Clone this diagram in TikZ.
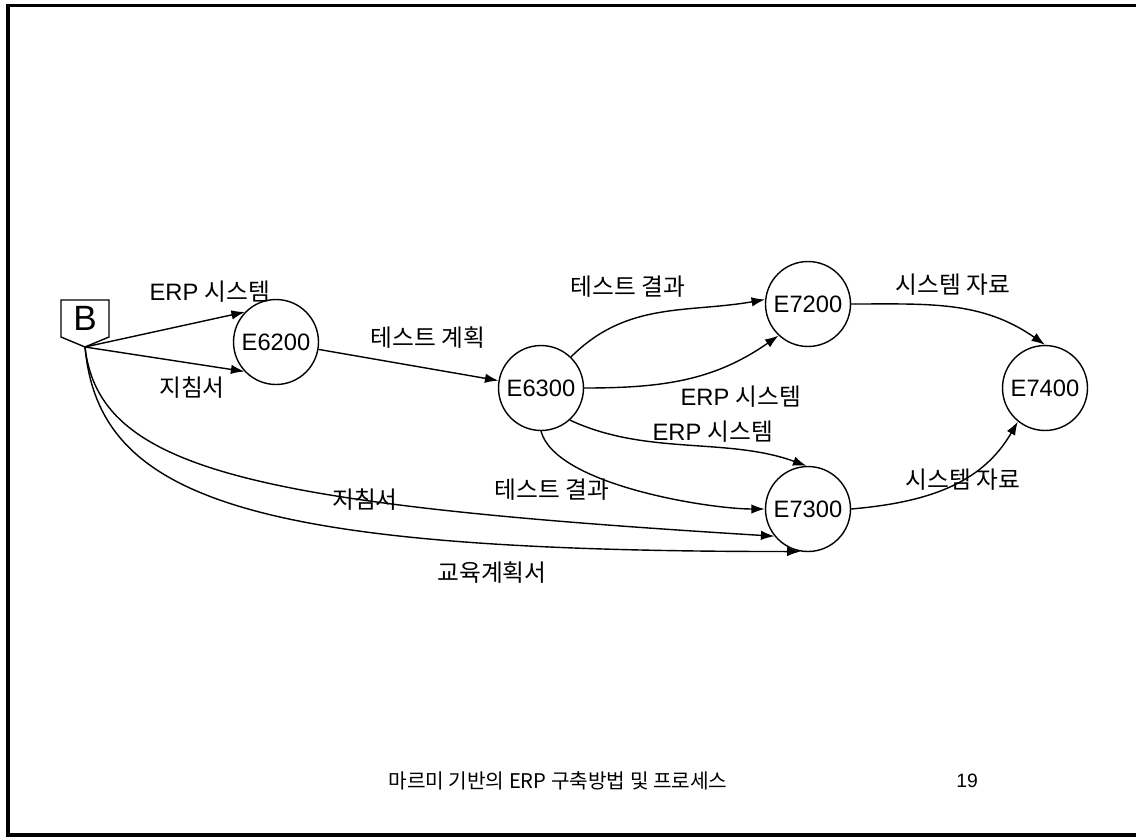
\documentclass[tikz,border=0pt]{standalone}
\usepackage{fontspec}
\setmainfont{Liberation Sans}
\newfontfamily\kr{Noto Sans CJK KR}
\usetikzlibrary{arrows.meta,calc}

\begin{document}
\begin{tikzpicture}[x=0.02cm, y=0.02cm,
    proc/.style={draw, circle, line width=0.8pt, minimum size=1.7cm, inner sep=0pt, font=\fontsize{13.5}{16}\selectfont},
    lbl/.style={font=\fontsize{13.5}{16}\selectfont, inner sep=1pt},
    flow/.style={-{Latex[length=2.7mm,width=1.9mm]}, line width=0.8pt}]
    \useasboundingbox (0,0) rectangle (1136,-839);
    \draw [line width=1.8pt] (1136,-5.5) -- (8,-5.5) -- (8,-835) -- (1136,-835);

    % start box
    \node (b) [minimum width=0.96cm, minimum height=0.74cm, inner sep=0pt, outer sep=0pt, font=\fontsize{20}{22}\selectfont] at (85,-318.5) {B};
    \coordinate (tip) at (85,-347);
    \draw [line width=0.8pt] (b.north west) -- (b.north east) -- (b.south east) -- (tip) -- (b.south west) -- cycle;

    % processes
    \node (e6200) [proc] at (276,-342) {E6200};
    \node (e6300) [proc] at (541,-388) {E6300};
    \node (e7200) [proc] at (808,-304) {E7200};
    \node (e7300) [proc] at (808,-509) {E7300};
    \node (e7400) [proc] at (1045,-388) {E7400};

    % flows
    \draw [flow] (tip) -- (e6200.136);
    \draw [flow] (tip) -- (e6200.223);
    \draw [flow] (e6200) -- (e6300);
    \draw [flow] (e6300.46) to[out=45, in=190] (e7200.174);
    \draw [flow] (e6300.east) to[out=0, in=215] (e7200.227);
    \draw [flow] (e6300.-48) to[out=-25, in=160, looseness=0.9] (e7300.92);
    \draw [flow] (e6300.south) to[out=-75, in=180, looseness=0.6] (e7300.west);
    \draw [flow] (tip) .. controls +(14,-123) and +(-523,32) .. (e7300.219);
    \draw [flow] (tip) .. controls +(14,-153) and +(-550,0) .. (e7300.-100);
    \draw [flow] (e7200.east) to[out=0, in=145] (e7400.north);
    \draw [flow] (e7300.east) to[out=5, in=240] (e7400.231);

    % labels
    \node (l1) [lbl] at (210,-292) {ERP {\kr 시스템}};
    \node (l2) [lbl] at (192,-388) {\kr 지침서};
    \node (l3) [lbl] at (428,-338) {\kr 테스트 계획};
    \node (l4) [lbl] at (628,-287) {\kr 테스트 결과};
    \node (l5) [lbl] at (741,-397) {ERP {\kr 시스템}};
    \node (l6) [lbl] at (713,-432) {ERP {\kr 시스템}};
    \node (l7) [lbl] at (552,-490) {\kr 테스트 결과};
    \node (l8) [lbl] at (365,-500) {\kr 지침서};
    \node (l9) [lbl] at (492,-573) {\kr 교육계획서};
    \node (l10) [lbl] at (953,-285) {\kr 시스템 자료};
    \node (l11) [lbl] at (963,-480) {\kr 시스템 자료};

    % footer
    \node (title) [font=\kr\fontsize{11.5}{14}\selectfont] at (558,-781) {마르미 기반의 ERP 구축방법 및 프로세스};
    \node (page) [font=\fontsize{11}{13}\selectfont] at (967,-781) {19};
\end{tikzpicture}
\end{document}
